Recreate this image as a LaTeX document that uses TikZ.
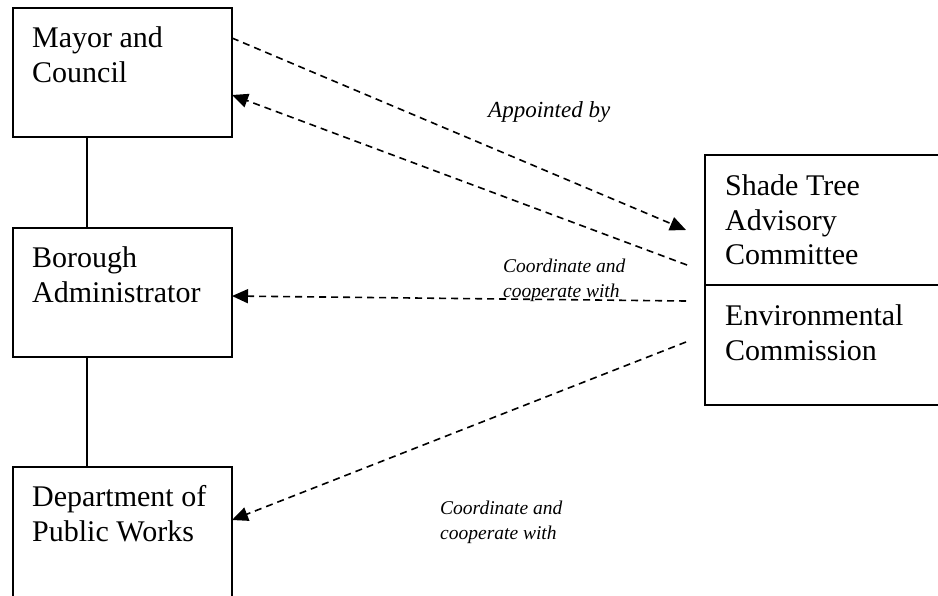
\documentclass[tikz,border=0pt]{standalone}
\usepackage{fontspec}
\setmainfont{Liberation Serif}
\usetikzlibrary{arrows.meta,calc}
\begin{document}
\begin{tikzpicture}[x=1pt,y=-1pt,
  box/.style={draw,line width=1.4pt,rectangle,inner sep=0pt,outer sep=0pt,anchor=north west},
  boxtext/.style={anchor=north west,align=left,inner sep=0pt,font=\fontsize{30}{34.5}\selectfont},
  link/.style={line width=1.6pt,dash pattern=on 7pt off 5pt,-{Triangle[length=16pt,width=14pt]}},
  solidlink/.style={line width=1.4pt},
  biglbl/.style={anchor=base west,inner sep=0pt,font=\fontsize{23}{27}\selectfont\itshape},
  smalllbl/.style={anchor=north west,align=left,inner sep=0pt,font=\fontsize{19.5}{25}\selectfont\itshape}]
\useasboundingbox (0,0) rectangle (938,595);
\fill[white] (0,0) rectangle (938,595);
\clip (0,0) rectangle (938,595);

% boxes
\node[box,minimum width=219pt,minimum height=129pt] (mayor) at (13,8) {};
\node[box,minimum width=219pt,minimum height=129pt] (borough) at (13,228) {};
\node[box,minimum width=219pt,minimum height=143pt] (dpw) at (13,467) {};
\node[box,minimum width=245pt,minimum height=130pt] (shade) at (705,155) {};
\node[box,minimum width=245pt,minimum height=120pt] (env) at (705,285) {};

% box texts
\node[boxtext] (mayort) at (32,26.5) {Mayor and\\Council};
\node[boxtext] (borought) at (32,246.5) {Borough\\Administrator};
\node[boxtext] (dpwt) at (32,485.5) {Department of\\Public Works};
\node[boxtext] (shadet) at (725,174.5) {Shade Tree\\Advisory\\Committee};
\node[boxtext] (envt) at (725,304.5) {Environmental\\Commission};

% solid hierarchy lines
\draw[solidlink] ($(mayor.south west)+(74,0)$) -- ($(borough.north west)+(74,0)$);
\draw[solidlink] ($(borough.south west)+(74,0)$) -- ($(dpw.north west)+(74,0)$);

% free ends near the right box
\coordinate (a1) at (686,230);
\coordinate (a2) at (687,265);
\coordinate (a3) at (686,301);
\coordinate (a4) at (686,342);

% dashed connectors
\draw[link] ($(mayor.north east)+(0,30)$) -- (a1);
\draw[link] (a2) -- ($(mayor.north east)+(0,87)$);
\draw[link] (a3) -- ($(borough.north east)+(0,68)$);
\draw[link] (a4) -- ($(dpw.north east)+(0,53)$);

% labels
\node[biglbl] (appointed) at (488,117) {Appointed by};
\node[smalllbl] (coop1) at (503,259) {Coordinate and\\cooperate with};
\node[smalllbl] (coop2) at (440,501) {Coordinate and\\cooperate with};
\end{tikzpicture}
\end{document}
